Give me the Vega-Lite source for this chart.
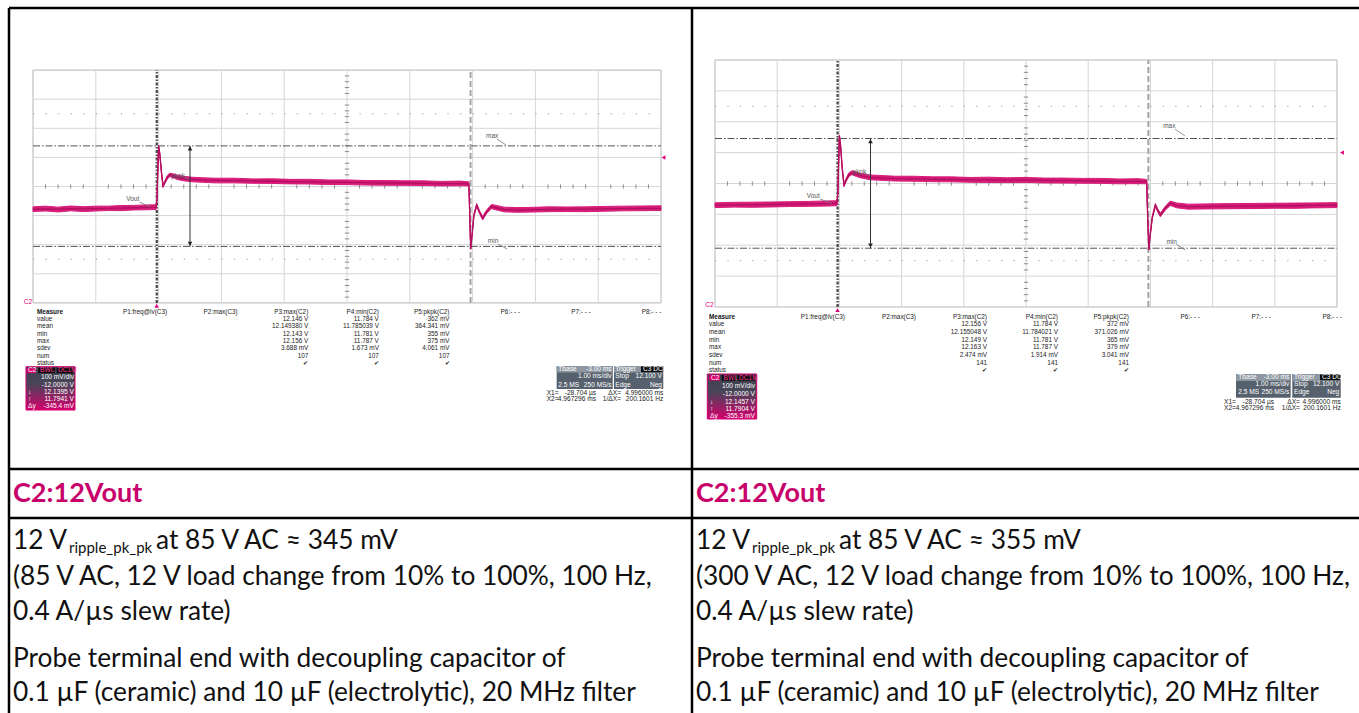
{
"$schema":"https://vega.github.io/schema/vega-lite/v6.json",
"width":1359,"height":713,"autosize":"none","padding":0,"background":"#ffffff",
"config":{"view":{"stroke":null},"axis":{"disable":true},"legend":{"disable":true}},
"datasets":{
"frame":[{"c1":0,"c2":0,"l1":0,"l2":21},{"c1":1,"c2":1,"l1":0,"l2":21},{"c1":0,"c2":2,"l1":0,"l2":0},{"c1":0,"c2":2,"l1":12.986,"l2":12.986},{"c1":0,"c2":2,"l1":14.366,"l2":14.366}],
"titles":[{"col":0,"line":13.69,"text":"C2:12Vout"},{"col":1,"line":13.69,"text":"C2:12Vout"}],
"body":[
{"col":0,"line":15.014,"text":"12 V"},
{"col":0,"line":16.028,"text":"(85 V AC, 12 V load change from 10% to 100%, 100 Hz,"},
{"col":0,"line":17.014,"text":"0.4 A/µs slew rate)"},
{"col":0,"line":18.338,"text":"Probe terminal end with decoupling capacitor of"},
{"col":0,"line":19.296,"text":"0.1 µF (ceramic) and 10 µF (electrolytic), 20 MHz filter"},
{"col":1,"line":15.014,"text":"12 V"},
{"col":1,"line":16.028,"text":"(300 V AC, 12 V load change from 10% to 100%, 100 Hz,"},
{"col":1,"line":17.014,"text":"0.4 A/µs slew rate)"},
{"col":1,"line":18.338,"text":"Probe terminal end with decoupling capacitor of"},
{"col":1,"line":19.296,"text":"0.1 µF (ceramic) and 10 µF (electrolytic), 20 MHz filter"}],
"sub":[{"col":0,"line":15.014,"text":"ripple_pk_pk"},{"col":1,"line":15.014,"text":"ripple_pk_pk"}],
"rest":[{"col":0,"line":15.014,"text":"at 85 V AC ≈ 345 mV"},{"col":1,"line":15.014,"text":"at 85 V AC ≈ 355 mV"}],
"wl":[
{"t":-2.0,"c":11.922,"lo":11.914,"hi":11.93},
{"t":-1.8,"c":11.923,"lo":11.916,"hi":11.9325},
{"t":-1.6,"c":11.922,"lo":11.9125,"hi":11.929},
{"t":-1.4,"c":11.924,"lo":11.9165,"hi":11.933},
{"t":-1.2,"c":11.923,"lo":11.914,"hi":11.9305},
{"t":-1.0,"c":11.924,"lo":11.916,"hi":11.9325},
{"t":-0.8,"c":11.925,"lo":11.9175,"hi":11.9325},
{"t":-0.6,"c":11.926,"lo":11.917,"hi":11.9345},
{"t":-0.4,"c":11.927,"lo":11.9195,"hi":11.935},
{"t":-0.2,"c":11.928,"lo":11.92,"hi":11.9365},
{"t":-0.04,"c":11.929,"lo":11.921,"hi":11.937},
{"t":-0.025,"c":11.96,"lo":11.957,"hi":11.963},
{"t":-0.012,"c":12.06,"lo":12.057,"hi":12.063},
{"t":0.0,"c":12.14,"lo":12.135,"hi":12.142},
{"t":0.02,"c":12.11,"lo":12.106,"hi":12.114},
{"t":0.045,"c":12.05,"lo":12.046,"hi":12.054},
{"t":0.07,"c":12.002,"lo":11.997,"hi":12.007},
{"t":0.1,"c":12.015,"lo":12.01,"hi":12.02},
{"t":0.14,"c":12.032,"lo":12.026,"hi":12.038},
{"t":0.18,"c":12.04,"lo":12.034,"hi":12.046},
{"t":0.24,"c":12.036,"lo":12.029,"hi":12.043},
{"t":0.3,"c":12.031,"lo":12.024,"hi":12.0385},
{"t":0.4,"c":12.027,"lo":12.0195,"hi":12.035},
{"t":0.55,"c":12.024,"lo":12.016,"hi":12.0315},
{"t":0.7,"c":12.022,"lo":12.0145,"hi":12.03},
{"t":0.9,"c":12.021,"lo":12.0125,"hi":12.0285},
{"t":1.2,"c":12.02,"lo":12.0125,"hi":12.0285},
{"t":1.5,"c":12.019,"lo":12.011,"hi":12.026},
{"t":1.8,"c":12.018,"lo":12.0105,"hi":12.0265},
{"t":2.1,"c":12.017,"lo":12.009,"hi":12.0245},
{"t":2.4,"c":12.016,"lo":12.0085,"hi":12.0245},
{"t":2.7,"c":12.015,"lo":12.007,"hi":12.0225},
{"t":3.0,"c":12.014,"lo":12.0065,"hi":12.0225},
{"t":3.3,"c":12.013,"lo":12.005,"hi":12.0205},
{"t":3.6,"c":12.012,"lo":12.0045,"hi":12.0205},
{"t":3.9,"c":12.012,"lo":12.004,"hi":12.0195},
{"t":4.2,"c":12.011,"lo":12.0035,"hi":12.0195},
{"t":4.5,"c":12.01,"lo":12.002,"hi":12.0175},
{"t":4.8,"c":12.01,"lo":12.0025,"hi":12.0185},
{"t":4.94,"c":12.009,"lo":12.002,"hi":12.016},
{"t":4.955,"c":11.9,"lo":11.897,"hi":11.903},
{"t":4.97,"c":11.785,"lo":11.784,"hi":11.79},
{"t":4.99,"c":11.83,"lo":11.826,"hi":11.834},
{"t":5.02,"c":11.9,"lo":11.896,"hi":11.904},
{"t":5.065,"c":11.936,"lo":11.931,"hi":11.941},
{"t":5.11,"c":11.912,"lo":11.907,"hi":11.917},
{"t":5.16,"c":11.891,"lo":11.885,"hi":11.897},
{"t":5.22,"c":11.912,"lo":11.906,"hi":11.918},
{"t":5.3,"c":11.931,"lo":11.924,"hi":11.938},
{"t":5.38,"c":11.927,"lo":11.9195,"hi":11.935},
{"t":5.5,"c":11.921,"lo":11.913,"hi":11.929},
{"t":5.7,"c":11.919,"lo":11.9115,"hi":11.9275},
{"t":5.9,"c":11.92,"lo":11.912,"hi":11.928},
{"t":6.2,"c":11.921,"lo":11.9135,"hi":11.93},
{"t":6.5,"c":11.922,"lo":11.914,"hi":11.9295},
{"t":6.8,"c":11.922,"lo":11.9135,"hi":11.93},
{"t":7.1,"c":11.923,"lo":11.915,"hi":11.9315},
{"t":7.4,"c":11.924,"lo":11.9165,"hi":11.9325},
{"t":7.7,"c":11.925,"lo":11.917,"hi":11.933},
{"t":8.0,"c":11.925,"lo":11.9175,"hi":11.9335}],
"wr":[
{"t":-2.0,"c":11.93,"lo":11.922,"hi":11.9375},
{"t":-1.7,"c":11.931,"lo":11.9235,"hi":11.939},
{"t":-1.4,"c":11.931,"lo":11.923,"hi":11.9395},
{"t":-1.1,"c":11.932,"lo":11.924,"hi":11.94},
{"t":-0.8,"c":11.933,"lo":11.9255,"hi":11.941},
{"t":-0.5,"c":11.934,"lo":11.926,"hi":11.942},
{"t":-0.2,"c":11.935,"lo":11.927,"hi":11.9435},
{"t":-0.04,"c":11.936,"lo":11.928,"hi":11.944},
{"t":-0.025,"c":11.97,"lo":11.967,"hi":11.973},
{"t":-0.012,"c":12.07,"lo":12.067,"hi":12.073},
{"t":0.0,"c":12.155,"lo":12.15,"hi":12.157},
{"t":0.02,"c":12.12,"lo":12.116,"hi":12.124},
{"t":0.045,"c":12.05,"lo":12.046,"hi":12.054},
{"t":0.074,"c":11.995,"lo":11.99,"hi":12.0},
{"t":0.11,"c":12.012,"lo":12.007,"hi":12.017},
{"t":0.15,"c":12.028,"lo":12.022,"hi":12.034},
{"t":0.2,"c":12.035,"lo":12.029,"hi":12.041},
{"t":0.27,"c":12.03,"lo":12.023,"hi":12.037},
{"t":0.35,"c":12.025,"lo":12.018,"hi":12.0325},
{"t":0.5,"c":12.02,"lo":12.012,"hi":12.0275},
{"t":0.65,"c":12.018,"lo":12.0105,"hi":12.026},
{"t":0.9,"c":12.016,"lo":12.008,"hi":12.0235},
{"t":1.2,"c":12.015,"lo":12.0075,"hi":12.0235},
{"t":1.5,"c":12.014,"lo":12.006,"hi":12.0215},
{"t":1.8,"c":12.013,"lo":12.0055,"hi":12.0215},
{"t":2.1,"c":12.012,"lo":12.004,"hi":12.0195},
{"t":2.4,"c":12.012,"lo":12.0035,"hi":12.0205},
{"t":2.7,"c":12.011,"lo":12.003,"hi":12.0185},
{"t":3.0,"c":12.011,"lo":12.0035,"hi":12.0195},
{"t":3.3,"c":12.01,"lo":12.002,"hi":12.0175},
{"t":3.6,"c":12.009,"lo":12.0015,"hi":12.0175},
{"t":3.9,"c":12.009,"lo":12.001,"hi":12.0165},
{"t":4.2,"c":12.008,"lo":12.0005,"hi":12.0165},
{"t":4.5,"c":12.007,"lo":11.999,"hi":12.0145},
{"t":4.8,"c":12.007,"lo":11.9995,"hi":12.0155},
{"t":4.94,"c":12.006,"lo":11.999,"hi":12.013},
{"t":4.955,"c":11.9,"lo":11.897,"hi":11.903},
{"t":4.975,"c":11.785,"lo":11.784,"hi":11.79},
{"t":4.995,"c":11.83,"lo":11.826,"hi":11.834},
{"t":5.03,"c":11.89,"lo":11.886,"hi":11.894},
{"t":5.08,"c":11.93,"lo":11.925,"hi":11.935},
{"t":5.12,"c":11.912,"lo":11.907,"hi":11.917},
{"t":5.16,"c":11.898,"lo":11.892,"hi":11.904},
{"t":5.24,"c":11.92,"lo":11.914,"hi":11.926},
{"t":5.32,"c":11.936,"lo":11.929,"hi":11.943},
{"t":5.42,"c":11.929,"lo":11.9215,"hi":11.937},
{"t":5.6,"c":11.925,"lo":11.917,"hi":11.933},
{"t":5.8,"c":11.925,"lo":11.9175,"hi":11.9335},
{"t":6.1,"c":11.926,"lo":11.918,"hi":11.9345},
{"t":6.4,"c":11.927,"lo":11.9185,"hi":11.935},
{"t":6.7,"c":11.927,"lo":11.919,"hi":11.9355},
{"t":7.0,"c":11.928,"lo":11.92,"hi":11.936},
{"t":7.3,"c":11.928,"lo":11.9195,"hi":11.9365},
{"t":7.6,"c":11.929,"lo":11.921,"hi":11.937},
{"t":8.0,"c":11.93,"lo":11.922,"hi":11.938}],
"vgrid":[{"t":-1},{"t":0},{"t":1},{"t":2},{"t":3},{"t":4},{"t":5},{"t":6},{"t":7}],
"hgrid":[{"v":11.7},{"v":11.8},{"v":11.9},{"v":12.0},{"v":12.1},{"v":12.2},{"v":12.3}],
"dots":[{"v":11.75},{"v":12.25}],
"hticks":[{"t":-1.8},{"t":-1.6},{"t":-1.4},{"t":-1.2},{"t":-0.8},{"t":-0.6},{"t":-0.4},{"t":-0.2},{"t":0.2},{"t":0.4},{"t":0.6},{"t":0.8},{"t":1.2},{"t":1.4},{"t":1.6},{"t":1.8},{"t":2.2},{"t":2.4},{"t":2.6},{"t":2.8},{"t":3.2},{"t":3.4},{"t":3.6},{"t":3.8},{"t":4.2},{"t":4.4},{"t":4.6},{"t":4.8},{"t":5.2},{"t":5.4},{"t":5.6},{"t":5.8},{"t":6.2},{"t":6.4},{"t":6.6},{"t":6.8},{"t":7.2},{"t":7.4},{"t":7.6},{"t":7.8}],
"vticks":[{"v":11.62},{"v":11.64},{"v":11.66},{"v":11.68},{"v":11.72},{"v":11.74},{"v":11.76},{"v":11.78},{"v":11.82},{"v":11.84},{"v":11.86},{"v":11.88},{"v":11.92},{"v":11.94},{"v":11.96},{"v":11.98},{"v":12.02},{"v":12.04},{"v":12.06},{"v":12.08},{"v":12.12},{"v":12.14},{"v":12.16},{"v":12.18},{"v":12.22},{"v":12.24},{"v":12.26},{"v":12.28},{"v":12.32},{"v":12.34},{"v":12.36},{"v":12.38}],
"cursors":[{"p":"L","v":12.1395},{"p":"L","v":11.7941},{"p":"R","v":12.1457},{"p":"R","v":11.7904}],
"x1":[{"t":-0.0287}],
"x2":[{"t":4.967296}],
"arrows":[{"p":"L","t":0.5,"v1":11.7941,"v2":12.1395},{"p":"R","t":0.5,"v1":11.7904,"v2":12.1457}],
"heads":[{"p":"L","t":0.5,"v":12.131,"m":"up"},{"p":"L","t":0.5,"v":11.803,"m":"down"},{"p":"R","t":0.5,"v":12.137,"m":"up"},{"p":"R","t":0.5,"v":11.799,"m":"down"}],
"markers":[{"p":"L","t":8.04,"v":12.1,"m":"left"},{"p":"L","t":-0.03,"v":11.59,"m":"up"},{"p":"R","t":8.08,"v":12.1,"m":"left"},{"p":"R","t":-0.03,"v":11.59,"m":"up"}],
"labels":[
{"p":"L","t":-0.412,"v":11.956,"text":"Vout","kind":"lbl"},
{"p":"L","t":0.309,"v":12.036,"text":"pkpk","kind":"lbl"},
{"p":"L","t":5.312,"v":12.1735,"text":"max","kind":"lbl"},
{"p":"L","t":5.325,"v":11.8127,"text":"min","kind":"lbl"},
{"p":"L","t":-2.08,"v":11.603,"text":"C2","kind":"mk"},
{"p":"R","t":-0.42,"v":11.9605,"text":"Vout","kind":"lbl"},
{"p":"R","t":0.32,"v":12.0363,"text":"pkpk","kind":"lbl"},
{"p":"R","t":5.304,"v":12.1862,"text":"max","kind":"lbl"},
{"p":"R","t":5.342,"v":11.8115,"text":"min","kind":"lbl"},
{"p":"R","t":-2.09,"v":11.6065,"text":"C2","kind":"mk"}],
"leaders":[
{"p":"L","t1":-0.304,"v1":11.9467,"t2":-0.137,"v2":11.9296},
{"p":"L","t1":5.389,"v1":12.1632,"t2":5.532,"v2":12.1426},
{"p":"L","t1":5.404,"v1":11.8024,"t2":5.548,"v2":11.7852},
{"p":"L","t1":0.4,"v1":12.032,"t2":0.48,"v2":12.026},
{"p":"R","t1":-0.312,"v1":11.9498,"t2":-0.119,"v2":11.9352},
{"p":"R","t1":5.395,"v1":12.1765,"t2":5.556,"v2":12.1538},
{"p":"R","t1":5.42,"v1":11.8024,"t2":5.56,"v2":11.7846},
{"p":"R","t1":0.41,"v1":12.032,"t2":0.49,"v2":12.026}],
"c2box":[{"p":"L","k1":-0.9986,"k2":-0.3045,"r1":7.503,"r2":13.411},{"p":"R","k1":-0.9394,"k2":-0.2437,"r1":7.48,"r2":13.355}],
"cells":[
{"p":"L","k1":6.518,"k2":7.312,"r1":7.408,"r2":10.546,"role":"tb"},
{"p":"L","k1":7.33,"k2":8.028,"r1":7.408,"r2":10.546,"role":"tb"},
{"p":"L","k1":6.518,"k2":7.312,"r1":7.408,"r2":8.295,"role":"tbtop"},
{"p":"L","k1":7.33,"k2":8.028,"r1":7.408,"r2":8.295,"role":"tbtop"},
{"p":"L","k1":7.712,"k2":8.017,"r1":7.476,"r2":8.25,"role":"blk"},
{"p":"L","k1":-0.9887,"k2":-0.8569,"r1":7.64,"r2":8.404,"role":"c2"},
{"p":"L","k1":-0.8244,"k2":-0.5878,"r1":7.64,"r2":8.404,"role":"blk"},
{"p":"L","k1":-0.5637,"k2":-0.3286,"r1":7.64,"r2":8.404,"role":"blk"},
{"p":"R","k1":6.507,"k2":7.277,"r1":7.48,"r2":10.574,"role":"tb"},
{"p":"R","k1":7.3,"k2":7.982,"r1":7.48,"r2":10.574,"role":"tb"},
{"p":"R","k1":6.507,"k2":7.277,"r1":7.48,"r2":8.394,"role":"tbtop"},
{"p":"R","k1":7.3,"k2":7.982,"r1":7.48,"r2":8.394,"role":"tbtop"},
{"p":"R","k1":7.69,"k2":7.972,"r1":7.546,"r2":8.3,"role":"blk"},
{"p":"R","k1":-0.9155,"k2":-0.7606,"r1":7.611,"r2":8.355,"role":"c2"},
{"p":"R","k1":-0.7366,"k2":-0.5352,"r1":7.611,"r2":8.355,"role":"blk"},
{"p":"R","k1":-0.5169,"k2":-0.2676,"r1":7.611,"r2":8.355,"role":"blk"}],
"mlabels":[
{"p":"L","r":1,"text":"value"},{"p":"L","r":2,"text":"mean"},{"p":"L","r":3,"text":"min"},{"p":"L","r":4,"text":"max"},{"p":"L","r":5,"text":"sdev"},{"p":"L","r":6,"text":"num"},{"p":"L","r":7,"text":"status"},
{"p":"R","r":1,"text":"value"},{"p":"R","r":2,"text":"mean"},{"p":"R","r":3,"text":"min"},{"p":"R","r":4,"text":"max"},{"p":"R","r":5,"text":"sdev"},{"p":"R","r":6,"text":"num"},{"p":"R","r":7,"text":"status"}],
"mvals":[
{"p":"L","k":1,"r":0,"text":"P1:freq@lv(C3)"},{"p":"L","k":2,"r":0,"text":"P2:max(C3)"},{"p":"L","k":3,"r":0,"text":"P3:max(C2)"},{"p":"L","k":4,"r":0,"text":"P4:min(C2)"},{"p":"L","k":5,"r":0,"text":"P5:pkpk(C2)"},{"p":"L","k":6,"r":0,"text":"P6:- - -"},{"p":"L","k":7,"r":0,"text":"P7:- - -"},{"p":"L","k":8,"r":0,"text":"P8:- - -"},
{"p":"L","k":3,"r":1,"text":"12.146 V"},{"p":"L","k":3,"r":2,"text":"12.149380 V"},{"p":"L","k":3,"r":3,"text":"12.143 V"},{"p":"L","k":3,"r":4,"text":"12.156 V"},{"p":"L","k":3,"r":5,"text":"3.688 mV"},{"p":"L","k":3,"r":6,"text":"107"},{"p":"L","k":3,"r":7,"text":"✔"},
{"p":"L","k":4,"r":1,"text":"11.784 V"},{"p":"L","k":4,"r":2,"text":"11.785039 V"},{"p":"L","k":4,"r":3,"text":"11.781 V"},{"p":"L","k":4,"r":4,"text":"11.787 V"},{"p":"L","k":4,"r":5,"text":"1.673 mV"},{"p":"L","k":4,"r":6,"text":"107"},{"p":"L","k":4,"r":7,"text":"✔"},
{"p":"L","k":5,"r":1,"text":"362 mV"},{"p":"L","k":5,"r":2,"text":"364.341 mV"},{"p":"L","k":5,"r":3,"text":"355 mV"},{"p":"L","k":5,"r":4,"text":"375 mV"},{"p":"L","k":5,"r":5,"text":"4.061 mV"},{"p":"L","k":5,"r":6,"text":"107"},{"p":"L","k":5,"r":7,"text":"✔"},
{"p":"R","k":1,"r":0,"text":"P1:freq@lv(C3)"},{"p":"R","k":2,"r":0,"text":"P2:max(C3)"},{"p":"R","k":3,"r":0,"text":"P3:max(C2)"},{"p":"R","k":4,"r":0,"text":"P4:min(C2)"},{"p":"R","k":5,"r":0,"text":"P5:pkpk(C2)"},{"p":"R","k":6,"r":0,"text":"P6:- - -"},{"p":"R","k":7,"r":0,"text":"P7:- - -"},{"p":"R","k":8,"r":0,"text":"P8:- - -"},
{"p":"R","k":3,"r":1,"text":"12.156 V"},{"p":"R","k":3,"r":2,"text":"12.155048 V"},{"p":"R","k":3,"r":3,"text":"12.149 V"},{"p":"R","k":3,"r":4,"text":"12.163 V"},{"p":"R","k":3,"r":5,"text":"2.474 mV"},{"p":"R","k":3,"r":6,"text":"141"},{"p":"R","k":3,"r":7,"text":"✔"},
{"p":"R","k":4,"r":1,"text":"11.784 V"},{"p":"R","k":4,"r":2,"text":"11.784021 V"},{"p":"R","k":4,"r":3,"text":"11.781 V"},{"p":"R","k":4,"r":4,"text":"11.787 V"},{"p":"R","k":4,"r":5,"text":"1.914 mV"},{"p":"R","k":4,"r":6,"text":"141"},{"p":"R","k":4,"r":7,"text":"✔"},
{"p":"R","k":5,"r":1,"text":"372 mV"},{"p":"R","k":5,"r":2,"text":"371.026 mV"},{"p":"R","k":5,"r":3,"text":"365 mV"},{"p":"R","k":5,"r":4,"text":"379 mV"},{"p":"R","k":5,"r":5,"text":"3.041 mV"},{"p":"R","k":5,"r":6,"text":"141"},{"p":"R","k":5,"r":7,"text":"✔"}],
"btr":[
{"p":"L","k":-0.3187,"r":8.95,"text":"100 mV/div","role":"w"},
{"p":"L","k":-0.3187,"r":10.0,"text":"-12.0000 V","role":"w"},
{"p":"L","k":-0.3187,"r":11.0,"text":"12.1395 V","role":"w"},
{"p":"L","k":-0.3187,"r":11.95,"text":"11.7941 V","role":"w"},
{"p":"L","k":-0.3187,"r":12.87,"text":"-345.4 mV","role":"w"},
{"p":"L","k":7.297,"r":7.858,"text":"-3.00 ms","role":"w"},
{"p":"L","k":7.297,"r":8.772,"text":"1.00 ms/div","role":"w"},
{"p":"L","k":7.297,"r":10.0,"text":"250 MS/s","role":"w"},
{"p":"L","k":8.01,"r":8.772,"text":"12.100 V","role":"w"},
{"p":"L","k":8.01,"r":10.0,"text":"Neg","role":"w"},
{"p":"L","k":7.075,"r":11.05,"text":"-28.704 µs","role":"k"},
{"p":"L","k":7.429,"r":11.05,"text":"ΔX=","role":"k"},
{"p":"L","k":8.028,"r":11.05,"text":"4.996000 ms","role":"k"},
{"p":"L","k":7.075,"r":11.95,"text":"4.967296 ms","role":"k"},
{"p":"L","k":7.429,"r":11.95,"text":"1/ΔX=","role":"k"},
{"p":"L","k":8.028,"r":11.95,"text":"200.1601 Hz","role":"k"},
{"p":"R","k":-0.2676,"r":9.01,"text":"100 mV/div","role":"w"},
{"p":"R","k":-0.2676,"r":10.09,"text":"-12.0000 V","role":"w"},
{"p":"R","k":-0.2676,"r":11.1,"text":"12.1457 V","role":"w"},
{"p":"R","k":-0.2676,"r":12.05,"text":"11.7904 V","role":"w"},
{"p":"R","k":-0.2676,"r":12.92,"text":"-355.3 mV","role":"w"},
{"p":"R","k":7.258,"r":7.833,"text":"-3.00 ms","role":"w"},
{"p":"R","k":7.258,"r":8.825,"text":"1.00 ms/div","role":"w"},
{"p":"R","k":7.258,"r":9.869,"text":"250 MS/s","role":"w"},
{"p":"R","k":7.962,"r":8.825,"text":"12.100 V","role":"w"},
{"p":"R","k":7.962,"r":9.869,"text":"Neg","role":"w"},
{"p":"R","k":7.042,"r":11.097,"text":"-28.704 µs","role":"k"},
{"p":"R","k":7.408,"r":11.097,"text":"ΔX=","role":"k"},
{"p":"R","k":7.982,"r":11.097,"text":"4.996000 ms","role":"k"},
{"p":"R","k":7.042,"r":11.958,"text":"4.967296 ms","role":"k"},
{"p":"R","k":7.408,"r":11.958,"text":"1/ΔX=","role":"k"},
{"p":"R","k":7.982,"r":11.958,"text":"200.1601 Hz","role":"k"}],
"btl":[
{"p":"L","k":-0.97,"r":8.02,"text":"C2","role":"w"},
{"p":"L","k":-0.8,"r":8.02,"text":"BWL","role":"m"},
{"p":"L","k":-0.545,"r":8.02,"text":"DC1M","role":"m"},
{"p":"L","k":-0.97,"r":11.0,"text":"↓","role":"w"},
{"p":"L","k":-0.97,"r":11.95,"text":"↑","role":"w"},
{"p":"L","k":-0.97,"r":12.87,"text":"Δy","role":"w"},
{"p":"L","k":6.541,"r":7.858,"text":"Tbase","role":"w"},
{"p":"L","k":6.541,"r":10.0,"text":"2.5 MS","role":"w"},
{"p":"L","k":7.348,"r":7.858,"text":"Trigger","role":"w"},
{"p":"L","k":7.742,"r":7.858,"text":"C3 DC","role":"w"},
{"p":"L","k":7.348,"r":8.772,"text":"Stop","role":"w"},
{"p":"L","k":7.348,"r":10.0,"text":"Edge","role":"w"},
{"p":"L","k":6.377,"r":11.05,"text":"X1=","role":"k"},
{"p":"L","k":6.377,"r":11.95,"text":"X2=","role":"k"},
{"p":"R","k":-0.887,"r":7.99,"text":"C2","role":"w"},
{"p":"R","k":-0.711,"r":7.99,"text":"BWL","role":"m"},
{"p":"R","k":-0.493,"r":7.99,"text":"DC1M","role":"m"},
{"p":"R","k":-0.901,"r":11.1,"text":"↓","role":"w"},
{"p":"R","k":-0.901,"r":12.05,"text":"↑","role":"w"},
{"p":"R","k":-0.901,"r":12.92,"text":"Δy","role":"w"},
{"p":"R","k":6.539,"r":7.833,"text":"Tbase","role":"w"},
{"p":"R","k":6.539,"r":9.869,"text":"2.5 MS","role":"w"},
{"p":"R","k":7.324,"r":7.833,"text":"Trigger","role":"w"},
{"p":"R","k":7.718,"r":7.833,"text":"C3 DC","role":"w"},
{"p":"R","k":7.324,"r":8.825,"text":"Stop","role":"w"},
{"p":"R","k":7.324,"r":9.869,"text":"Edge","role":"w"},
{"p":"R","k":6.338,"r":11.097,"text":"X1=","role":"k"},
{"p":"R","k":6.338,"r":11.958,"text":"X2=","role":"k"}]
},
"resolve":{"scale":{"x":"independent","y":"independent","color":"independent","shape":"independent"}},
"layer":[
{"layer":[
 {"data":{"name":"frame"},"mark":{"type":"rule","color":"#000000","strokeWidth":2.5},
  "encoding":{"x":{"field":"c1","type":"quantitative","scale":{"domain":[-0.013177,1.976574],"nice":false,"zero":false}},"x2":{"field":"c2"},"y":{"field":"l1","type":"quantitative","scale":{"domain":[-0.225352,19.859155],"reverse":true,"nice":false,"zero":false}},"y2":{"field":"l2"}}},
 {"data":{"name":"titles"},"mark":{"type":"text","font":"Lato","fontWeight":"bold","fontSize":27,"color":"#c8006a","align":"left","baseline":"middle","dx":4},
  "encoding":{"x":{"field":"col","type":"quantitative","scale":{"domain":[-0.013177,1.976574],"nice":false,"zero":false}},"y":{"field":"line","type":"quantitative","scale":{"domain":[-0.225352,19.859155],"reverse":true,"nice":false,"zero":false}},"text":{"field":"text"}}},
 {"data":{"name":"body"},"mark":{"type":"text","font":"Lato","fontSize":26.3,"color":"#111111","align":"left","baseline":"middle","dx":4},
  "encoding":{"x":{"field":"col","type":"quantitative","scale":{"domain":[-0.013177,1.976574],"nice":false,"zero":false}},"y":{"field":"line","type":"quantitative","scale":{"domain":[-0.225352,19.859155],"reverse":true,"nice":false,"zero":false}},"text":{"field":"text"}}},
 {"data":{"name":"sub"},"mark":{"type":"text","font":"Lato","fontSize":15,"color":"#111111","align":"left","baseline":"middle","dx":60,"dy":7},
  "encoding":{"x":{"field":"col","type":"quantitative","scale":{"domain":[-0.013177,1.976574],"nice":false,"zero":false}},"y":{"field":"line","type":"quantitative","scale":{"domain":[-0.225352,19.859155],"reverse":true,"nice":false,"zero":false}},"text":{"field":"text"}}},
 {"data":{"name":"rest"},"mark":{"type":"text","font":"Lato","fontSize":26.3,"color":"#111111","align":"left","baseline":"middle","dx":147},
  "encoding":{"x":{"field":"col","type":"quantitative","scale":{"domain":[-0.013177,1.976574],"nice":false,"zero":false}},"y":{"field":"line","type":"quantitative","scale":{"domain":[-0.225352,19.859155],"reverse":true,"nice":false,"zero":false}},"text":{"field":"text"}}}
]},
{"layer":[
 {"data":{"values":[{"a":1}]},"mark":{"type":"rect","fill":"#ffffff","stroke":"#b5b5b5","strokeWidth":1},
  "encoding":{"x":{"datum":-2,"type":"quantitative","scale":{"domain":[-2.525478,19.11465],"nice":false,"zero":false}},"x2":{"datum":8},"y":{"datum":11.6,"type":"quantitative","scale":{"domain":[10.190722,12.640893],"nice":false,"zero":false}},"y2":{"datum":12.4}}},
 {"data":{"name":"vgrid"},"mark":{"type":"rule","color":"#d6d6d6","strokeWidth":1},
  "encoding":{"x":{"field":"t","type":"quantitative","scale":{"domain":[-2.525478,19.11465],"nice":false,"zero":false}},"y":{"datum":11.6,"type":"quantitative","scale":{"domain":[10.190722,12.640893],"nice":false,"zero":false}},"y2":{"datum":12.4}}},
 {"data":{"name":"hgrid"},"mark":{"type":"rule","color":"#d6d6d6","strokeWidth":1},
  "encoding":{"x":{"datum":-2,"type":"quantitative","scale":{"domain":[-2.525478,19.11465],"nice":false,"zero":false}},"x2":{"datum":8},"y":{"field":"v","type":"quantitative","scale":{"domain":[10.190722,12.640893],"nice":false,"zero":false}}}},
 {"data":{"name":"dots"},"mark":{"type":"rule","color":"#9a9a9a","strokeWidth":1,"strokeDash":[1.2,11.36]},
  "encoding":{"x":{"datum":-2,"type":"quantitative","scale":{"domain":[-2.525478,19.11465],"nice":false,"zero":false}},"x2":{"datum":8},"y":{"field":"v","type":"quantitative","scale":{"domain":[10.190722,12.640893],"nice":false,"zero":false}}}},
 {"data":{"name":"hticks"},"mark":{"type":"rule","color":"#8c8c8c","strokeWidth":1},
  "encoding":{"x":{"field":"t","type":"quantitative","scale":{"domain":[-2.525478,19.11465],"nice":false,"zero":false}},"y":{"datum":11.993,"type":"quantitative","scale":{"domain":[10.190722,12.640893],"nice":false,"zero":false}},"y2":{"datum":12.007}}},
 {"data":{"name":"vticks"},"mark":{"type":"rule","color":"#8c8c8c","strokeWidth":1},
  "encoding":{"x":{"datum":2.965,"type":"quantitative","scale":{"domain":[-2.525478,19.11465],"nice":false,"zero":false}},"x2":{"datum":3.035},"y":{"field":"v","type":"quantitative","scale":{"domain":[10.190722,12.640893],"nice":false,"zero":false}}}},
 {"data":{"name":"cursors"},"transform":[{"filter":{"field":"p","equal":"L"}}],"mark":{"type":"rule","color":"#555555","strokeWidth":1,"strokeDash":[7,2,1.5,2]},
  "encoding":{"x":{"datum":-2,"type":"quantitative","scale":{"domain":[-2.525478,19.11465],"nice":false,"zero":false}},"x2":{"datum":8},"y":{"field":"v","type":"quantitative","scale":{"domain":[10.190722,12.640893],"nice":false,"zero":false}}}},
 {"data":{"name":"x1"},"mark":{"type":"rule","color":"#505050","strokeWidth":2.4,"strokeDash":[3,1.5,1.5,1.5]},
  "encoding":{"x":{"field":"t","type":"quantitative","scale":{"domain":[-2.525478,19.11465],"nice":false,"zero":false}},"y":{"datum":11.6,"type":"quantitative","scale":{"domain":[10.190722,12.640893],"nice":false,"zero":false}},"y2":{"datum":12.4}}},
 {"data":{"name":"x2"},"mark":{"type":"rule","color":"#a5a5a5","strokeWidth":2,"strokeDash":[6,3]},
  "encoding":{"x":{"field":"t","type":"quantitative","scale":{"domain":[-2.525478,19.11465],"nice":false,"zero":false}},"y":{"datum":11.6,"type":"quantitative","scale":{"domain":[10.190722,12.640893],"nice":false,"zero":false}},"y2":{"datum":12.4}}},
 {"data":{"name":"wl"},"mark":{"type":"area","color":"#d81b7b","stroke":"#d81b7b","strokeWidth":1},
  "encoding":{"x":{"field":"t","type":"quantitative","scale":{"domain":[-2.525478,19.11465],"nice":false,"zero":false}},"y":{"field":"lo","type":"quantitative","scale":{"domain":[10.190722,12.640893],"nice":false,"zero":false}},"y2":{"field":"hi"}}},
 {"data":{"name":"wl"},"mark":{"type":"line","color":"#b0105d","strokeWidth":1.3},
  "encoding":{"x":{"field":"t","type":"quantitative","scale":{"domain":[-2.525478,19.11465],"nice":false,"zero":false}},"y":{"field":"c","type":"quantitative","scale":{"domain":[10.190722,12.640893],"nice":false,"zero":false}}}},
 {"data":{"name":"arrows"},"transform":[{"filter":{"field":"p","equal":"L"}}],"mark":{"type":"rule","color":"#333333","strokeWidth":1},
  "encoding":{"x":{"field":"t","type":"quantitative","scale":{"domain":[-2.525478,19.11465],"nice":false,"zero":false}},"y":{"field":"v1","type":"quantitative","scale":{"domain":[10.190722,12.640893],"nice":false,"zero":false}},"y2":{"field":"v2"}}},
 {"data":{"name":"heads"},"transform":[{"filter":{"field":"p","equal":"L"}}],"mark":{"type":"point","filled":true,"color":"#222222","size":22,"opacity":1},
  "encoding":{"x":{"field":"t","type":"quantitative","scale":{"domain":[-2.525478,19.11465],"nice":false,"zero":false}},"y":{"field":"v","type":"quantitative","scale":{"domain":[10.190722,12.640893],"nice":false,"zero":false}},"shape":{"field":"m","type":"nominal","scale":{"domain":["up","down","left"],"range":["triangle-up","triangle-down","triangle-left"]}}}},
 {"data":{"name":"leaders"},"transform":[{"filter":{"field":"p","equal":"L"}}],"mark":{"type":"rule","color":"#777777","strokeWidth":0.8},
  "encoding":{"x":{"field":"t1","type":"quantitative","scale":{"domain":[-2.525478,19.11465],"nice":false,"zero":false}},"x2":{"field":"t2"},"y":{"field":"v1","type":"quantitative","scale":{"domain":[10.190722,12.640893],"nice":false,"zero":false}},"y2":{"field":"v2"}}},
 {"data":{"name":"labels"},"transform":[{"filter":{"field":"p","equal":"L"}}],"mark":{"type":"text","font":"Liberation Sans","fontSize":6.5,"baseline":"middle","align":"center"},
  "encoding":{"x":{"field":"t","type":"quantitative","scale":{"domain":[-2.525478,19.11465],"nice":false,"zero":false}},"y":{"field":"v","type":"quantitative","scale":{"domain":[10.190722,12.640893],"nice":false,"zero":false}},"text":{"field":"text"},"color":{"field":"kind","type":"nominal","scale":{"domain":["lbl","mk"],"range":["#555555","#e0007a"]}}}},
 {"data":{"name":"markers"},"transform":[{"filter":{"field":"p","equal":"L"}}],"mark":{"type":"point","filled":true,"color":"#e0007a","size":20,"opacity":1},
  "encoding":{"x":{"field":"t","type":"quantitative","scale":{"domain":[-2.525478,19.11465],"nice":false,"zero":false}},"y":{"field":"v","type":"quantitative","scale":{"domain":[10.190722,12.640893],"nice":false,"zero":false}},"shape":{"field":"m","type":"nominal","scale":{"domain":["up","down","left"],"range":["triangle-up","triangle-down","triangle-left"]}}}}
]},
{"layer":[
 {"data":{"values":[{"a":1}]},"mark":{"type":"rect","fill":"#ffffff","stroke":"#b5b5b5","strokeWidth":1},
  "encoding":{"x":{"datum":-2,"type":"quantitative","scale":{"domain":[-13.495177,8.353698],"nice":false,"zero":false}},"x2":{"datum":8},"y":{"datum":11.6,"type":"quantitative","scale":{"domain":[10.28502,12.594332],"nice":false,"zero":false}},"y2":{"datum":12.4}}},
 {"data":{"name":"vgrid"},"mark":{"type":"rule","color":"#d6d6d6","strokeWidth":1},
  "encoding":{"x":{"field":"t","type":"quantitative","scale":{"domain":[-13.495177,8.353698],"nice":false,"zero":false}},"y":{"datum":11.6,"type":"quantitative","scale":{"domain":[10.28502,12.594332],"nice":false,"zero":false}},"y2":{"datum":12.4}}},
 {"data":{"name":"hgrid"},"mark":{"type":"rule","color":"#d6d6d6","strokeWidth":1},
  "encoding":{"x":{"datum":-2,"type":"quantitative","scale":{"domain":[-13.495177,8.353698],"nice":false,"zero":false}},"x2":{"datum":8},"y":{"field":"v","type":"quantitative","scale":{"domain":[10.28502,12.594332],"nice":false,"zero":false}}}},
 {"data":{"name":"dots"},"mark":{"type":"rule","color":"#9a9a9a","strokeWidth":1,"strokeDash":[1.2,11.24]},
  "encoding":{"x":{"datum":-2,"type":"quantitative","scale":{"domain":[-13.495177,8.353698],"nice":false,"zero":false}},"x2":{"datum":8},"y":{"field":"v","type":"quantitative","scale":{"domain":[10.28502,12.594332],"nice":false,"zero":false}}}},
 {"data":{"name":"hticks"},"mark":{"type":"rule","color":"#8c8c8c","strokeWidth":1},
  "encoding":{"x":{"field":"t","type":"quantitative","scale":{"domain":[-13.495177,8.353698],"nice":false,"zero":false}},"y":{"datum":11.993,"type":"quantitative","scale":{"domain":[10.28502,12.594332],"nice":false,"zero":false}},"y2":{"datum":12.007}}},
 {"data":{"name":"vticks"},"mark":{"type":"rule","color":"#8c8c8c","strokeWidth":1},
  "encoding":{"x":{"datum":2.965,"type":"quantitative","scale":{"domain":[-13.495177,8.353698],"nice":false,"zero":false}},"x2":{"datum":3.035},"y":{"field":"v","type":"quantitative","scale":{"domain":[10.28502,12.594332],"nice":false,"zero":false}}}},
 {"data":{"name":"cursors"},"transform":[{"filter":{"field":"p","equal":"R"}}],"mark":{"type":"rule","color":"#555555","strokeWidth":1,"strokeDash":[7,2,1.5,2]},
  "encoding":{"x":{"datum":-2,"type":"quantitative","scale":{"domain":[-13.495177,8.353698],"nice":false,"zero":false}},"x2":{"datum":8},"y":{"field":"v","type":"quantitative","scale":{"domain":[10.28502,12.594332],"nice":false,"zero":false}}}},
 {"data":{"name":"x1"},"mark":{"type":"rule","color":"#505050","strokeWidth":2.4,"strokeDash":[3,1.5,1.5,1.5]},
  "encoding":{"x":{"field":"t","type":"quantitative","scale":{"domain":[-13.495177,8.353698],"nice":false,"zero":false}},"y":{"datum":11.6,"type":"quantitative","scale":{"domain":[10.28502,12.594332],"nice":false,"zero":false}},"y2":{"datum":12.4}}},
 {"data":{"name":"x2"},"mark":{"type":"rule","color":"#a5a5a5","strokeWidth":2,"strokeDash":[6,3]},
  "encoding":{"x":{"field":"t","type":"quantitative","scale":{"domain":[-13.495177,8.353698],"nice":false,"zero":false}},"y":{"datum":11.6,"type":"quantitative","scale":{"domain":[10.28502,12.594332],"nice":false,"zero":false}},"y2":{"datum":12.4}}},
 {"data":{"name":"wr"},"mark":{"type":"area","color":"#d81b7b","stroke":"#d81b7b","strokeWidth":1},
  "encoding":{"x":{"field":"t","type":"quantitative","scale":{"domain":[-13.495177,8.353698],"nice":false,"zero":false}},"y":{"field":"lo","type":"quantitative","scale":{"domain":[10.28502,12.594332],"nice":false,"zero":false}},"y2":{"field":"hi"}}},
 {"data":{"name":"wr"},"mark":{"type":"line","color":"#b0105d","strokeWidth":1.3},
  "encoding":{"x":{"field":"t","type":"quantitative","scale":{"domain":[-13.495177,8.353698],"nice":false,"zero":false}},"y":{"field":"c","type":"quantitative","scale":{"domain":[10.28502,12.594332],"nice":false,"zero":false}}}},
 {"data":{"name":"arrows"},"transform":[{"filter":{"field":"p","equal":"R"}}],"mark":{"type":"rule","color":"#333333","strokeWidth":1},
  "encoding":{"x":{"field":"t","type":"quantitative","scale":{"domain":[-13.495177,8.353698],"nice":false,"zero":false}},"y":{"field":"v1","type":"quantitative","scale":{"domain":[10.28502,12.594332],"nice":false,"zero":false}},"y2":{"field":"v2"}}},
 {"data":{"name":"heads"},"transform":[{"filter":{"field":"p","equal":"R"}}],"mark":{"type":"point","filled":true,"color":"#222222","size":22,"opacity":1},
  "encoding":{"x":{"field":"t","type":"quantitative","scale":{"domain":[-13.495177,8.353698],"nice":false,"zero":false}},"y":{"field":"v","type":"quantitative","scale":{"domain":[10.28502,12.594332],"nice":false,"zero":false}},"shape":{"field":"m","type":"nominal","scale":{"domain":["up","down","left"],"range":["triangle-up","triangle-down","triangle-left"]}}}},
 {"data":{"name":"leaders"},"transform":[{"filter":{"field":"p","equal":"R"}}],"mark":{"type":"rule","color":"#777777","strokeWidth":0.8},
  "encoding":{"x":{"field":"t1","type":"quantitative","scale":{"domain":[-13.495177,8.353698],"nice":false,"zero":false}},"x2":{"field":"t2"},"y":{"field":"v1","type":"quantitative","scale":{"domain":[10.28502,12.594332],"nice":false,"zero":false}},"y2":{"field":"v2"}}},
 {"data":{"name":"labels"},"transform":[{"filter":{"field":"p","equal":"R"}}],"mark":{"type":"text","font":"Liberation Sans","fontSize":6.5,"baseline":"middle","align":"center"},
  "encoding":{"x":{"field":"t","type":"quantitative","scale":{"domain":[-13.495177,8.353698],"nice":false,"zero":false}},"y":{"field":"v","type":"quantitative","scale":{"domain":[10.28502,12.594332],"nice":false,"zero":false}},"text":{"field":"text"},"color":{"field":"kind","type":"nominal","scale":{"domain":["lbl","mk"],"range":["#555555","#e0007a"]}}}},
 {"data":{"name":"markers"},"transform":[{"filter":{"field":"p","equal":"R"}}],"mark":{"type":"point","filled":true,"color":"#e0007a","size":20,"opacity":1},
  "encoding":{"x":{"field":"t","type":"quantitative","scale":{"domain":[-13.495177,8.353698],"nice":false,"zero":false}},"y":{"field":"v","type":"quantitative","scale":{"domain":[10.28502,12.594332],"nice":false,"zero":false}},"shape":{"field":"m","type":"nominal","scale":{"domain":["up","down","left"],"range":["triangle-up","triangle-down","triangle-left"]}}}}
]},
{"layer":[
 {"data":{"name":"c2box"},"transform":[{"filter":{"field":"p","equal":"L"}}],"mark":{"type":"rect","stroke":"#d0006f","strokeWidth":1,"fill":{"gradient":"linear","x1":0,"y1":0,"x2":0,"y2":1,"stops":[{"offset":0,"color":"#3a424e"},{"offset":0.4,"color":"#4a4458"},{"offset":1,"color":"#d4006e"}]}},
  "encoding":{"x":{"field":"k1","type":"quantitative","scale":{"domain":[-1.366856,17.882436],"nice":false,"zero":false}},"x2":{"field":"k2"},"y":{"field":"r1","type":"quantitative","scale":{"domain":[-42.523874,54.747613],"reverse":true,"nice":false,"zero":false}},"y2":{"field":"r2"}}},
 {"data":{"name":"cells"},"transform":[{"filter":{"field":"p","equal":"L"}}],"mark":{"type":"rect","opacity":1},
  "encoding":{"x":{"field":"k1","type":"quantitative","scale":{"domain":[-1.366856,17.882436],"nice":false,"zero":false}},"x2":{"field":"k2"},"y":{"field":"r1","type":"quantitative","scale":{"domain":[-42.523874,54.747613],"reverse":true,"nice":false,"zero":false}},"y2":{"field":"r2"},"color":{"field":"role","type":"nominal","scale":{"domain":["c2","blk","tb","tbtop","w","m","k"],"range":["#d4006e","#0d0d0d","#56616d","#8d97a2","#ffffff","#ff3399","#222222"]}}}},
 {"data":{"name":"mlabels"},"transform":[{"filter":{"field":"p","equal":"L"}}],"mark":{"type":"text","font":"Liberation Sans","fontSize":6.4,"color":"#222222","align":"left","baseline":"middle","dx":-59.5},
  "encoding":{"x":{"datum":0,"type":"quantitative","scale":{"domain":[-1.366856,17.882436],"nice":false,"zero":false}},"y":{"field":"r","type":"quantitative","scale":{"domain":[-42.523874,54.747613],"reverse":true,"nice":false,"zero":false}},"text":{"field":"text"}}},
 {"data":{"values":[{"r":0,"text":"Measure"}]},"mark":{"type":"text","font":"Liberation Sans","fontSize":6.4,"fontWeight":"bold","color":"#111111","align":"left","baseline":"middle","dx":-59.5},
  "encoding":{"x":{"datum":0,"type":"quantitative","scale":{"domain":[-1.366856,17.882436],"nice":false,"zero":false}},"y":{"field":"r","type":"quantitative","scale":{"domain":[-42.523874,54.747613],"reverse":true,"nice":false,"zero":false}},"text":{"field":"text"}}},
 {"data":{"name":"mvals"},"transform":[{"filter":{"field":"p","equal":"L"}}],"mark":{"type":"text","font":"Liberation Sans","fontSize":6.4,"color":"#222222","align":"right","baseline":"middle"},
  "encoding":{"x":{"field":"k","type":"quantitative","scale":{"domain":[-1.366856,17.882436],"nice":false,"zero":false}},"y":{"field":"r","type":"quantitative","scale":{"domain":[-42.523874,54.747613],"reverse":true,"nice":false,"zero":false}},"text":{"field":"text"}}},
 {"data":{"name":"btr"},"transform":[{"filter":{"field":"p","equal":"L"}}],"mark":{"type":"text","font":"Liberation Sans","fontSize":6.6,"align":"right","baseline":"middle"},
  "encoding":{"x":{"field":"k","type":"quantitative","scale":{"domain":[-1.366856,17.882436],"nice":false,"zero":false}},"y":{"field":"r","type":"quantitative","scale":{"domain":[-42.523874,54.747613],"reverse":true,"nice":false,"zero":false}},"text":{"field":"text"},"color":{"field":"role","type":"nominal","scale":{"domain":["c2","blk","tb","tbtop","w","m","k"],"range":["#d4006e","#0d0d0d","#56616d","#8d97a2","#ffffff","#ff3399","#222222"]}}}},
 {"data":{"name":"btl"},"transform":[{"filter":{"field":"p","equal":"L"}}],"mark":{"type":"text","font":"Liberation Sans","fontSize":6.6,"align":"left","baseline":"middle"},
  "encoding":{"x":{"field":"k","type":"quantitative","scale":{"domain":[-1.366856,17.882436],"nice":false,"zero":false}},"y":{"field":"r","type":"quantitative","scale":{"domain":[-42.523874,54.747613],"reverse":true,"nice":false,"zero":false}},"text":{"field":"text"},"color":{"field":"role","type":"nominal","scale":{"domain":["c2","blk","tb","tbtop","w","m","k"],"range":["#d4006e","#0d0d0d","#56616d","#8d97a2","#ffffff","#ff3399","#222222"]}}}}
]},
{"layer":[
 {"data":{"name":"c2box"},"transform":[{"filter":{"field":"p","equal":"R"}}],"mark":{"type":"rect","stroke":"#d0006f","strokeWidth":1,"fill":{"gradient":"linear","x1":0,"y1":0,"x2":0,"y2":1,"stops":[{"offset":0,"color":"#3a424e"},{"offset":0.4,"color":"#4a4458"},{"offset":1,"color":"#d4006e"}]}},
  "encoding":{"x":{"field":"k1","type":"quantitative","scale":{"domain":[-10.901408,8.239437],"nice":false,"zero":false}},"x2":{"field":"k2"},"y":{"field":"r1","type":"quantitative","scale":{"domain":[-41.344648,51.736292],"reverse":true,"nice":false,"zero":false}},"y2":{"field":"r2"}}},
 {"data":{"name":"cells"},"transform":[{"filter":{"field":"p","equal":"R"}}],"mark":{"type":"rect","opacity":1},
  "encoding":{"x":{"field":"k1","type":"quantitative","scale":{"domain":[-10.901408,8.239437],"nice":false,"zero":false}},"x2":{"field":"k2"},"y":{"field":"r1","type":"quantitative","scale":{"domain":[-41.344648,51.736292],"reverse":true,"nice":false,"zero":false}},"y2":{"field":"r2"},"color":{"field":"role","type":"nominal","scale":{"domain":["c2","blk","tb","tbtop","w","m","k"],"range":["#d4006e","#0d0d0d","#56616d","#8d97a2","#ffffff","#ff3399","#222222"]}}}},
 {"data":{"name":"mlabels"},"transform":[{"filter":{"field":"p","equal":"R"}}],"mark":{"type":"text","font":"Liberation Sans","fontSize":6.4,"color":"#222222","align":"left","baseline":"middle","dx":-65},
  "encoding":{"x":{"datum":0,"type":"quantitative","scale":{"domain":[-10.901408,8.239437],"nice":false,"zero":false}},"y":{"field":"r","type":"quantitative","scale":{"domain":[-41.344648,51.736292],"reverse":true,"nice":false,"zero":false}},"text":{"field":"text"}}},
 {"data":{"values":[{"r":0,"text":"Measure"}]},"mark":{"type":"text","font":"Liberation Sans","fontSize":6.4,"fontWeight":"bold","color":"#111111","align":"left","baseline":"middle","dx":-65},
  "encoding":{"x":{"datum":0,"type":"quantitative","scale":{"domain":[-10.901408,8.239437],"nice":false,"zero":false}},"y":{"field":"r","type":"quantitative","scale":{"domain":[-41.344648,51.736292],"reverse":true,"nice":false,"zero":false}},"text":{"field":"text"}}},
 {"data":{"name":"mvals"},"transform":[{"filter":{"field":"p","equal":"R"}}],"mark":{"type":"text","font":"Liberation Sans","fontSize":6.4,"color":"#222222","align":"right","baseline":"middle"},
  "encoding":{"x":{"field":"k","type":"quantitative","scale":{"domain":[-10.901408,8.239437],"nice":false,"zero":false}},"y":{"field":"r","type":"quantitative","scale":{"domain":[-41.344648,51.736292],"reverse":true,"nice":false,"zero":false}},"text":{"field":"text"}}},
 {"data":{"name":"btr"},"transform":[{"filter":{"field":"p","equal":"R"}}],"mark":{"type":"text","font":"Liberation Sans","fontSize":6.6,"align":"right","baseline":"middle"},
  "encoding":{"x":{"field":"k","type":"quantitative","scale":{"domain":[-10.901408,8.239437],"nice":false,"zero":false}},"y":{"field":"r","type":"quantitative","scale":{"domain":[-41.344648,51.736292],"reverse":true,"nice":false,"zero":false}},"text":{"field":"text"},"color":{"field":"role","type":"nominal","scale":{"domain":["c2","blk","tb","tbtop","w","m","k"],"range":["#d4006e","#0d0d0d","#56616d","#8d97a2","#ffffff","#ff3399","#222222"]}}}},
 {"data":{"name":"btl"},"transform":[{"filter":{"field":"p","equal":"R"}}],"mark":{"type":"text","font":"Liberation Sans","fontSize":6.6,"align":"left","baseline":"middle"},
  "encoding":{"x":{"field":"k","type":"quantitative","scale":{"domain":[-10.901408,8.239437],"nice":false,"zero":false}},"y":{"field":"r","type":"quantitative","scale":{"domain":[-41.344648,51.736292],"reverse":true,"nice":false,"zero":false}},"text":{"field":"text"},"color":{"field":"role","type":"nominal","scale":{"domain":["c2","blk","tb","tbtop","w","m","k"],"range":["#d4006e","#0d0d0d","#56616d","#8d97a2","#ffffff","#ff3399","#222222"]}}}}
]}
]
}
